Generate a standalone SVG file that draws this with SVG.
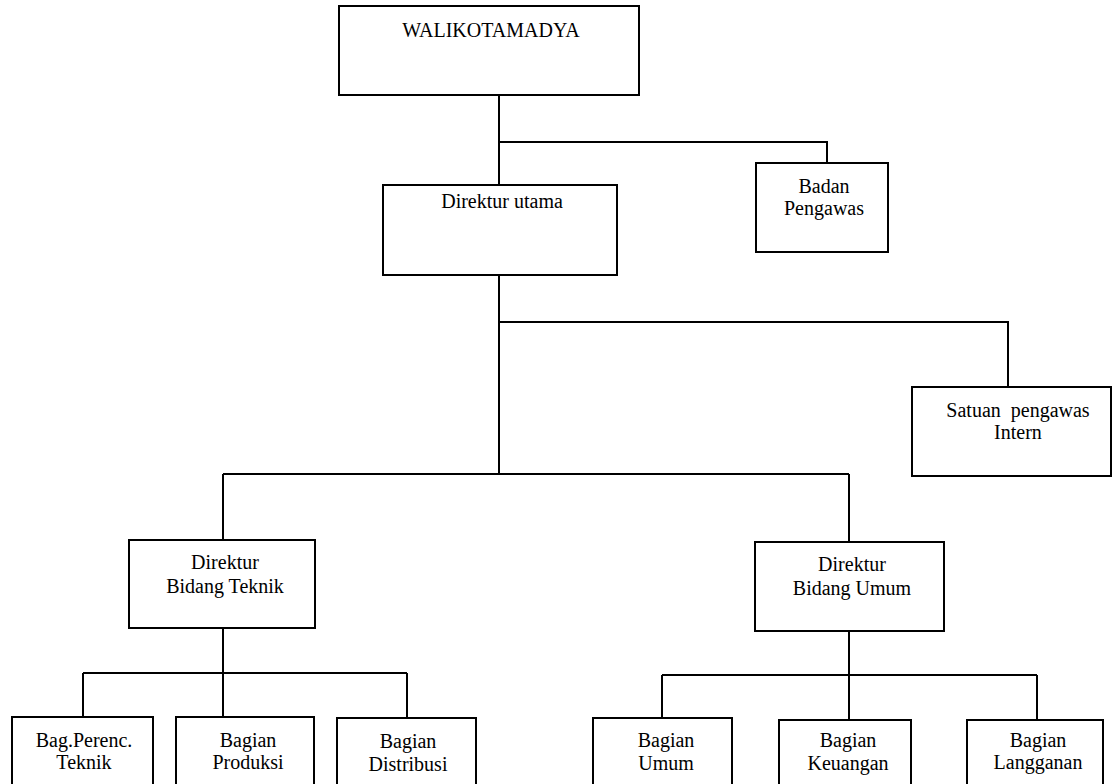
<svg xmlns="http://www.w3.org/2000/svg" width="1117" height="784" viewBox="0 0 1117 784">
<style>
  .box { fill: #fff; stroke: #000; stroke-width: 2; }
  .ln { fill: none; stroke: #000; stroke-width: 2; }
  text { font-family: 'Liberation Serif', 'Times New Roman', 'DejaVu Serif', serif; font-size: 20px; fill: #000; text-anchor: middle; }
</style>
<rect width="1117" height="784" fill="#fff"/>
<g id="connectors">
  <path class="ln" d="M499 95 V185 M499 142 H827 V163"/>
  <path class="ln" d="M499 275 V474 M499 322 H1008 V387"/>
  <path class="ln" d="M223 474 H849 M223 474 V540 M849 474 V542"/>
  <path class="ln" d="M223 628 V717 M83 673 H407 M83 673 V717 M407 673 V718"/>
  <path class="ln" d="M849 631 V720 M662 675 H1037 M662 675 V718 M1037 675 V720"/>
</g>
<g id="walikotamadya">
  <rect class="box" x="339" y="6" width="300" height="89"/>
  <text x="491" y="37">WALIKOTAMADYA</text>
</g>
<g id="badan-pengawas">
  <rect class="box" x="756" y="163" width="132" height="89"/>
  <text x="824" y="193">Badan</text>
  <text x="824" y="215">Pengawas</text>
</g>
<g id="direktur-utama">
  <rect class="box" x="383" y="185" width="234" height="90"/>
  <text x="502" y="208">Direktur utama</text>
</g>
<g id="satuan-pengawas-intern">
  <rect class="box" x="912" y="387" width="199" height="89"/>
  <text x="1018" y="417" xml:space="preserve">Satuan  pengawas</text>
  <text x="1018" y="439">Intern</text>
</g>
<g id="direktur-bidang-teknik">
  <rect class="box" x="129" y="540" width="186" height="88"/>
  <text x="225" y="569">Direktur</text>
  <text x="225" y="593">Bidang Teknik</text>
</g>
<g id="direktur-bidang-umum">
  <rect class="box" x="755" y="542" width="189" height="89"/>
  <text x="852" y="571">Direktur</text>
  <text x="852" y="595">Bidang Umum</text>
</g>
<g id="bag-perenc-teknik">
  <rect class="box" x="12" y="717" width="141" height="80"/>
  <text x="84" y="747">Bag.Perenc.</text>
  <text x="84" y="769">Teknik</text>
</g>
<g id="bagian-produksi">
  <rect class="box" x="176" y="717" width="138" height="80"/>
  <text x="248" y="747">Bagian</text>
  <text x="248" y="769">Produksi</text>
</g>
<g id="bagian-distribusi">
  <rect class="box" x="337" y="718" width="139" height="80"/>
  <text x="408" y="748">Bagian</text>
  <text x="408" y="771">Distribusi</text>
</g>
<g id="bagian-umum">
  <rect class="box" x="593" y="718" width="139" height="80"/>
  <text x="666" y="747">Bagian</text>
  <text x="666" y="770">Umum</text>
</g>
<g id="bagian-keuangan">
  <rect class="box" x="779" y="720" width="132" height="80"/>
  <text x="848" y="747">Bagian</text>
  <text x="848" y="770">Keuangan</text>
</g>
<g id="bagian-langganan">
  <rect class="box" x="967" y="720" width="136" height="80"/>
  <text x="1038" y="747">Bagian</text>
  <text x="1038" y="769">Langganan</text>
</g>
</svg>
